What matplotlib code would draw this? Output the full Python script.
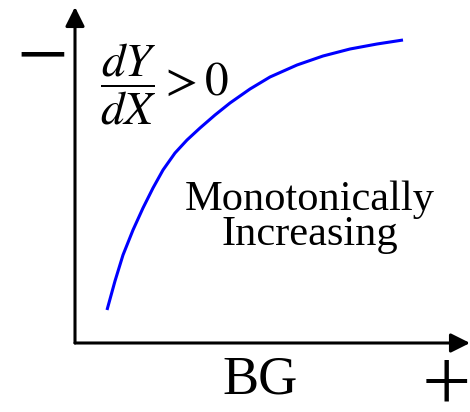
import matplotlib
matplotlib.use("Agg")
import matplotlib.pyplot as plt

# curva (unidades arbitrarias, origen en el cruce de ejes)
curva_x = [32, 40, 48, 58, 68, 78, 88, 100, 112, 125, 140, 155, 175, 195,
           222, 248, 275, 302, 328]
curva_y = [33, 62, 88, 113, 135, 155, 173, 190, 203, 215, 228, 240, 254, 266,
           278, 287, 294, 299, 303]

etiqueta_x = "BG"
texto_curva = ["Monotonically", "Increasing"]
formula = r"$\dfrac{dY}{dX} > 0$"

plt.rcParams['mathtext.fontset'] = 'stix'
plt.rcParams['mathtext.rm'] = 'Liberation Serif'
serif = 'Liberation Serif'

W, H = 470, 412
fig = plt.figure(figsize=(W / 100, H / 100), dpi=100)

# ejes: esquina en (75, 343) px, punta y en 7 px, punta x en 470 px
x0, y0 = 75, 343
ax = fig.add_axes([x0 / W, (H - y0) / H, (W - x0) / W, (y0 - 7) / H])
ax.set_xlim(0, W - x0)
ax.set_ylim(0, y0 - 7)
ax.axis('off')

flecha = dict(arrowstyle='-|>', lw=2.2, color='k', mutation_scale=29,
              shrinkA=0, shrinkB=0)
ax.annotate('', xy=(0, 1), xytext=(0, 0), xycoords='axes fraction',
            arrowprops=flecha, annotation_clip=False)
ax.annotate('', xy=(1, 0), xytext=(0, 0), xycoords='axes fraction',
            arrowprops=flecha, annotation_clip=False)

ax.plot(curva_x, curva_y, color='#0000ff', lw=2.2, solid_capstyle='butt',
        solid_joinstyle='round')


def px(x, y):
    return x / W, 1 - y / H


fig.text(*px(100, 95), formula, fontsize=34, ha='left', va='baseline')
fig.text(*px(310, 210), texto_curva[0], family=serif, fontsize=30.5,
         ha='center', va='baseline')
fig.text(*px(310, 245), texto_curva[1], family=serif, fontsize=30.5,
         ha='center', va='baseline')
fig.text(*px(260, 393), etiqueta_x, family=serif, fontsize=39,
         ha='center', va='baseline')
# signos con caja ajustada a la tinta (mathtext)
fig.text(*px(41, 57), r'$\mathrm{-}$', fontsize=66, ha='center', va='center',
         math_fontfamily='custom')
fig.text(*px(468, 409), r'$\mathrm{+}$', fontsize=63, ha='right',
         va='baseline', math_fontfamily='custom')

fig.savefig('out.png', dpi=100)
